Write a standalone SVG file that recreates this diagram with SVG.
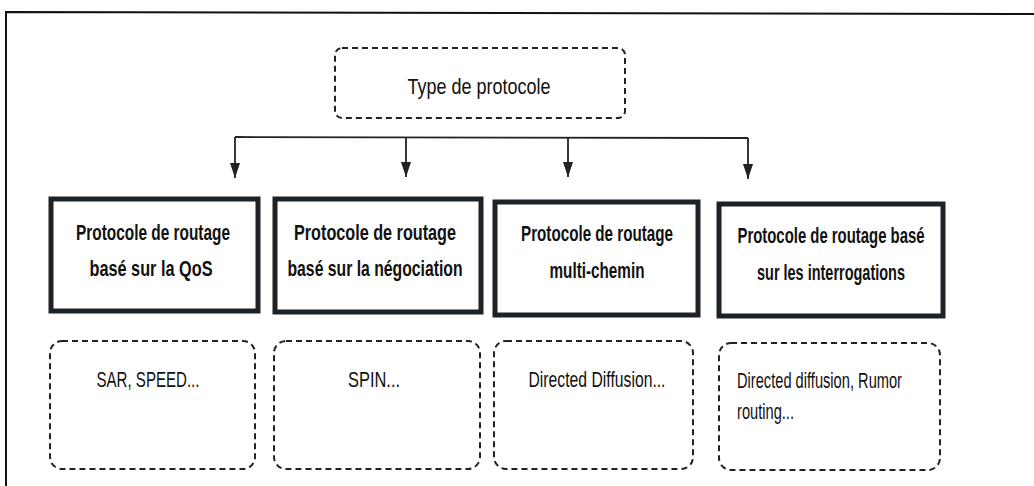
<svg xmlns="http://www.w3.org/2000/svg" width="1034" height="486" viewBox="0 0 1034 486">
<style>
.frame{fill:none;stroke:#111;stroke-width:2}
.dash{fill:#fff;stroke:#222;stroke-width:2;stroke-dasharray:6 4}
.solid{fill:#fff;stroke:#1d2228;stroke-width:5}
.t{font-family:"Liberation Sans",Arial,sans-serif;fill:#111}
.b{font-weight:bold;font-size:22px;text-anchor:middle}
.r{font-size:22px}
.line{stroke:#222;stroke-width:1.8;fill:none}
</style>
<defs>
<marker id="ah" markerWidth="15" markerHeight="10" refX="15" refY="5" orient="auto" markerUnits="userSpaceOnUse">
<path d="M0,0 L15,5 L0,10 Z" fill="#222"/>
</marker>
</defs>
<rect width="1034" height="486" fill="#fff"/>
<path class="frame" d="M6,486 L6,12 L1034,14"/>
<g id="top">
<rect class="dash" x="335" y="48" width="290" height="70" rx="7"/>
<text class="t r" x="479" y="94" text-anchor="middle" textLength="143" lengthAdjust="spacingAndGlyphs">Type de protocole</text>
</g>
<g id="connectors">
<path class="line" d="M235,137 L748,138" stroke-width="2.5"/>
<path class="line" d="M235,137 L235,178" marker-end="url(#ah)"/>
<path class="line" d="M406,137 L406,177" marker-end="url(#ah)"/>
<path class="line" d="M568,138 L568,177" marker-end="url(#ah)"/>
<path class="line" d="M748,138 L748,179" marker-end="url(#ah)"/>
</g>
<g id="n1">
<rect class="solid" x="51" y="199" width="207" height="112"/>
<text class="t b" x="153" y="240" textLength="154" lengthAdjust="spacingAndGlyphs">Protocole de routage</text>
<text class="t b" x="151" y="276" textLength="123" lengthAdjust="spacingAndGlyphs">basé sur la QoS</text>
</g>
<g id="n2">
<rect class="solid" x="275" y="199" width="206" height="113"/>
<text class="t b" x="375" y="240" textLength="162" lengthAdjust="spacingAndGlyphs">Protocole de routage</text>
<text class="t b" x="375" y="276" textLength="175" lengthAdjust="spacingAndGlyphs">basé sur la négociation</text>
</g>
<g id="n3">
<rect class="solid" x="495" y="202" width="203" height="113"/>
<text class="t b" x="597" y="241" textLength="152" lengthAdjust="spacingAndGlyphs">Protocole de routage</text>
<text class="t b" x="597" y="278" textLength="95" lengthAdjust="spacingAndGlyphs">multi-chemin</text>
</g>
<g id="n4">
<rect class="solid" x="719" y="204" width="224" height="112"/>
<text class="t b" x="831" y="243" textLength="187" lengthAdjust="spacingAndGlyphs">Protocole de routage basé</text>
<text class="t b" x="831" y="280" textLength="148" lengthAdjust="spacingAndGlyphs">sur les interrogations</text>
</g>
<g id="d1">
<rect class="dash" x="50" y="341" width="205" height="128" rx="12"/>
<text class="t r" x="148" y="387" text-anchor="middle" textLength="103" lengthAdjust="spacingAndGlyphs">SAR, SPEED...</text>
</g>
<g id="d2">
<rect class="dash" x="274" y="341" width="206" height="128" rx="12"/>
<text class="t r" x="374" y="387" text-anchor="middle" textLength="52" lengthAdjust="spacingAndGlyphs">SPIN...</text>
</g>
<g id="d3">
<rect class="dash" x="494" y="341" width="199" height="128" rx="12"/>
<text class="t r" x="597" y="387" text-anchor="middle" textLength="137" lengthAdjust="spacingAndGlyphs">Directed Diffusion...</text>
</g>
<g id="d4">
<rect class="dash" x="719" y="343" width="221" height="127" rx="12"/>
<text class="t r" x="737" y="388" textLength="165" lengthAdjust="spacingAndGlyphs">Directed diffusion, Rumor</text>
<text class="t r" x="737" y="419" textLength="57" lengthAdjust="spacingAndGlyphs">routing...</text>
</g>
</svg>
